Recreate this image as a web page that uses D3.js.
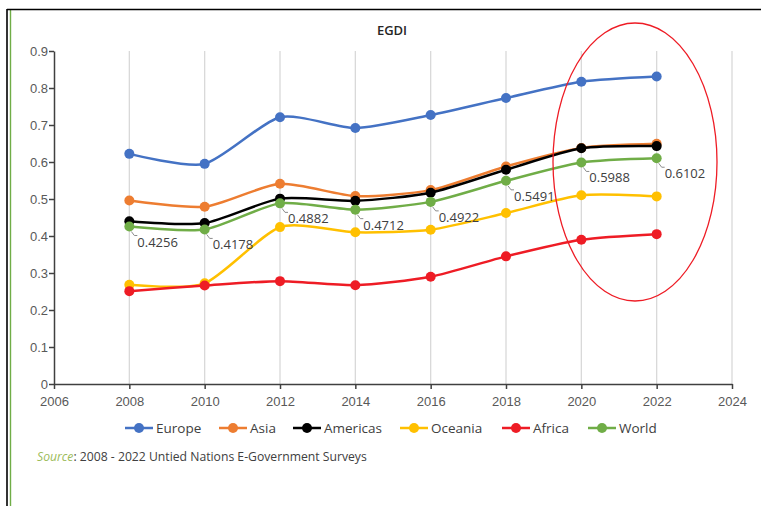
<!DOCTYPE html>
<html>
<head>
<meta charset="utf-8">
<script src="https://cdn.jsdelivr.net/npm/d3@7"></script>
<style>
  body { margin: 0; background: #fff; }
  svg { display: block; font-family: "Open Sans", "Noto Sans", sans-serif; }
</style>
</head>
<body>
<div id="chart"></div>
<script>
// data
var years = [2008, 2010, 2012, 2014, 2016, 2018, 2020, 2022];
var seriesNames = ["Europe", "Asia", "Americas", "Oceania", "Africa", "World"];
var europe   = [0.622, 0.595, 0.721, 0.692, 0.727, 0.773, 0.817, 0.831];
var asia     = [0.496, 0.479, 0.541, 0.508, 0.524, 0.588, 0.638, 0.649];
var americas = [0.440, 0.435, 0.501, 0.495, 0.517, 0.579, 0.637, 0.643];
var oceania  = [0.268, 0.272, 0.424, 0.410, 0.417, 0.462, 0.510, 0.507];
var africa   = [0.251, 0.266, 0.278, 0.267, 0.290, 0.345, 0.390, 0.405];
var world    = [0.4256, 0.4178, 0.4882, 0.4712, 0.4922, 0.5491, 0.5988, 0.6102];
var worldLabels = ["0.4256", "0.4178", "0.4882", "0.4712", "0.4922", "0.5491", "0.5988", "0.6102"];
var xTicks = [2006, 2008, 2010, 2012, 2014, 2016, 2018, 2020, 2022, 2024];
var yTicks = [0, 0.1, 0.2, 0.3, 0.4, 0.5, 0.6, 0.7, 0.8, 0.9];

var colors = ["#4472C4", "#ED7D31", "#000000", "#FFC000", "#EE1C25", "#70AD47"];
var values = [europe, asia, americas, oceania, africa, world];

var svgWidth = 761;
var svgHeight = 506;
var margin = { top: 51, right: 29, bottom: 122, left: 54 };
var height = svgHeight - margin.top - margin.bottom;
var width = svgWidth - margin.left - margin.right;

var svg = d3.select("#chart")
    .append("svg")
    .attr("width", svgWidth)
    .attr("height", svgHeight);

// page frame
svg.append("line").attr("x1", 7).attr("x2", 7).attr("y1", 9).attr("y2", svgHeight)
    .attr("stroke", "#000").attr("stroke-width", 1.6);
svg.append("line").attr("x1", 10.5).attr("x2", 10.5).attr("y1", 10).attr("y2", svgHeight)
    .attr("stroke", "#70AD47").attr("stroke-width", 1.4);
svg.append("line").attr("x1", 7).attr("x2", svgWidth).attr("y1", 9.5).attr("y2", 9.5)
    .attr("stroke", "#000").attr("stroke-width", 1.6);

var chartGroup = svg.append("g")
    .attr("transform", `translate(${margin.left}, ${margin.top})`);

var xScale = d3.scaleLinear().domain([2006, 2024]).range([0, width]);
var yScale = d3.scaleLinear().domain([0, 0.9]).range([height, 0]);

// vertical gridlines
chartGroup.selectAll(".grid")
    .data(xTicks.slice(1))
    .enter()
    .append("line")
    .attr("x1", d => xScale(d)).attr("x2", d => xScale(d))
    .attr("y1", 0).attr("y2", height)
    .attr("stroke", "#d9d9d9").attr("stroke-width", 1.3);

var bottomAxis = d3.axisBottom(xScale).tickValues(xTicks).tickFormat(d3.format("d")).tickSize(5).tickSizeOuter(0);
var leftAxis = d3.axisLeft(yScale).tickValues(yTicks).tickFormat(d => d === 0 ? "0" : d3.format(".1f")(d)).tickSize(5).tickSizeOuter(0);

var xAxisG = chartGroup.append("g")
    .attr("transform", `translate(0, ${height})`)
    .call(bottomAxis);
var yAxisG = chartGroup.append("g").call(leftAxis);

[xAxisG, yAxisG].forEach(function (g) {
    g.selectAll("path, line").attr("stroke", "#404040").attr("stroke-width", 1.5);
    g.selectAll("text").attr("fill", "#595959").style("font-size", "13px");
});
xAxisG.selectAll("text").attr("dy", "1.05em");
yAxisG.selectAll("text").attr("x", -6);

// title
svg.append("text")
    .attr("x", 392).attr("y", 35)
    .attr("text-anchor", "middle")
    .style("font-size", "13px").style("font-weight", 600)
    .attr("fill", "#262626")
    .text("EGDI");

// series lines and markers
var line = d3.line()
    .x((d, i) => xScale(years[i]))
    .y(d => yScale(d))
    .curve(d3.curveCardinal.tension(0.3));

values.forEach(function (vals, s) {
    var g = chartGroup.append("g");
    g.append("path")
        .datum(vals)
        .attr("d", line)
        .attr("fill", "none")
        .attr("stroke", colors[s])
        .attr("stroke-width", 2.5);
    g.selectAll("circle")
        .data(vals)
        .enter()
        .append("circle")
        .attr("cx", (d, i) => xScale(years[i]))
        .attr("cy", d => yScale(d))
        .attr("r", 5)
        .attr("fill", colors[s]);
});

// world data labels with leader lines
var labelG = chartGroup.append("g");
world.forEach(function (v, i) {
    var px = xScale(years[i]), py = yScale(v);
    labelG.append("polyline")
        .attr("points", `${px + 2},${py + 5} ${px + 5},${py + 9} ${px + 8},${py + 9}`)
        .attr("fill", "none").attr("stroke", "#8c8c8c").attr("stroke-width", 1);
    labelG.append("text")
        .attr("x", px + 8).attr("y", py + 20)
        .style("font-size", "13px")
        .attr("fill", "#404040")
        .text(worldLabels[i]);
});

// legend
var legendX = [125, 219, 293, 400, 502, 588];
var legend = svg.append("g").attr("transform", "translate(0, 428)");
seriesNames.forEach(function (name, s) {
    var lg = legend.append("g").attr("transform", `translate(${legendX[s]}, 0)`);
    lg.append("line").attr("x1", 0).attr("x2", 28).attr("y1", 0).attr("y2", 0)
        .attr("stroke", colors[s]).attr("stroke-width", 2.5);
    lg.append("circle").attr("cx", 14).attr("cy", 0).attr("r", 5).attr("fill", colors[s]);
    lg.append("text").attr("x", 31).attr("y", 5)
        .style("font-size", "13.5px").attr("fill", "#404040").text(name);
});

// source note
var src = svg.append("text").attr("x", 37).attr("y", 461).style("font-size", "12.2px");
src.append("tspan").attr("fill", "#9BBB59").style("font-style", "italic").text("Source");
src.append("tspan").attr("fill", "#404040").text(": 2008 - 2022 Untied Nations E-Government Surveys");

// red highlight ellipse
svg.append("ellipse")
    .attr("cx", 635).attr("cy", 162)
    .attr("rx", 82).attr("ry", 139)
    .attr("fill", "none").attr("stroke", "#EE1C25").attr("stroke-width", 1.3);
</script>
</body>
</html>
